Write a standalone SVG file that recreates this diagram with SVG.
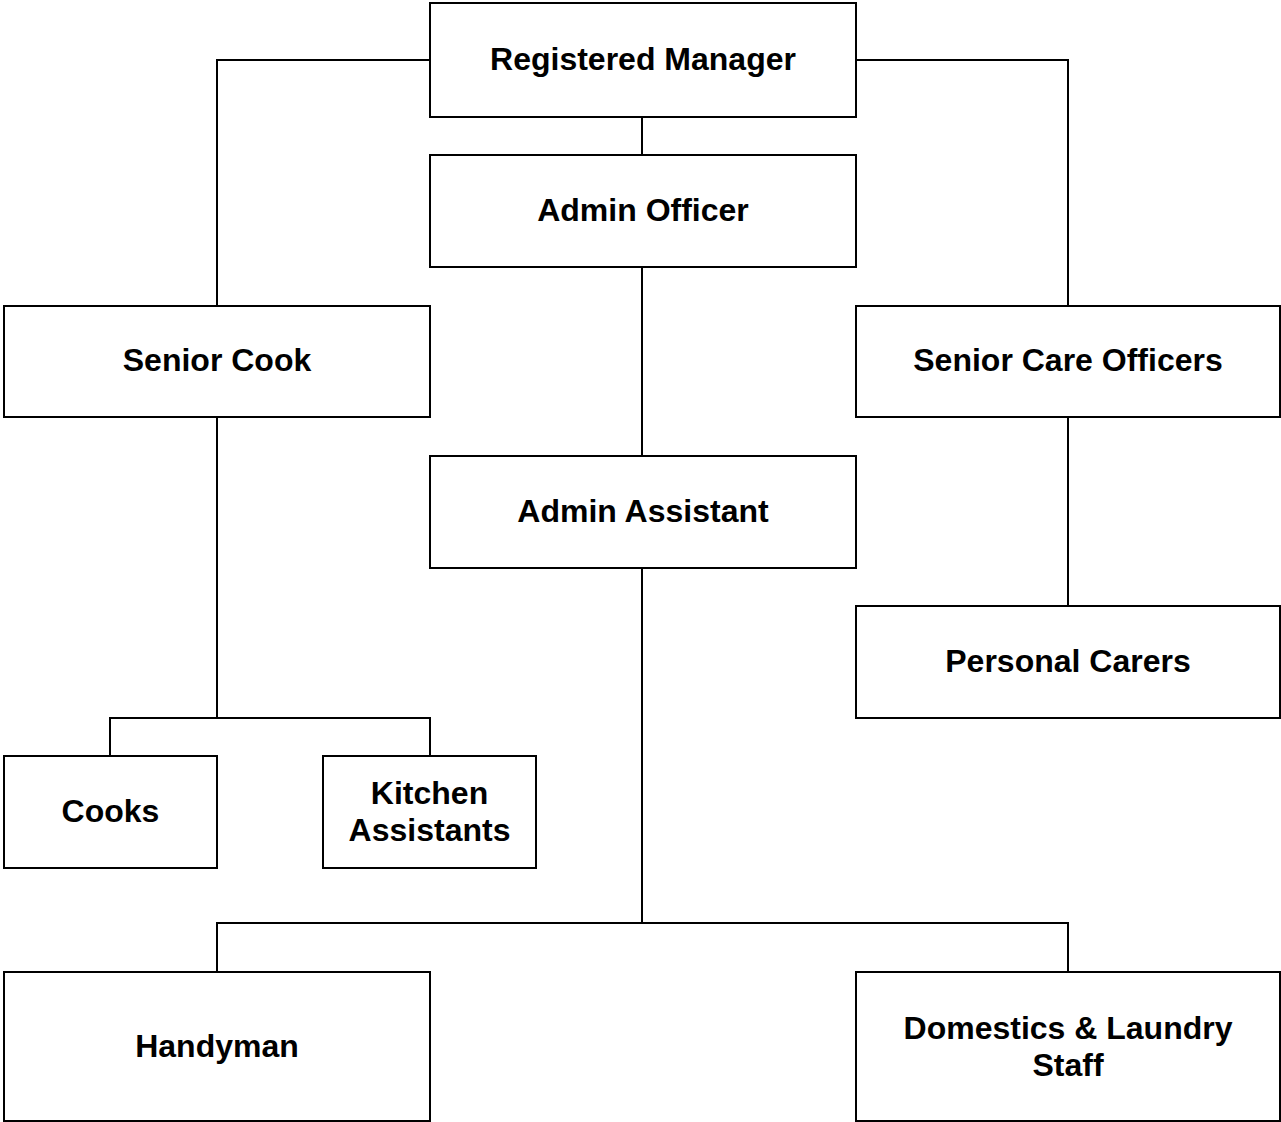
<svg xmlns="http://www.w3.org/2000/svg" width="1281" height="1122" viewBox="0 0 1281 1122">
<style>
.box{fill:#fff;stroke:#000;stroke-width:2}
.lbl{font-family:"Liberation Sans",Arial,sans-serif;font-weight:bold;font-size:32px;fill:#000;text-anchor:middle}
.con{fill:none;stroke:#000;stroke-width:2}
</style>
<rect width="1281" height="1122" fill="#fff"/>
<g id="connectors">
<path class="con" d="M430 60H217V306"/>
<path class="con" d="M856 60H1068V306"/>
<path class="con" d="M642 117V155"/>
<path class="con" d="M642 267V456"/>
<path class="con" d="M217 417V718M110 756V718H430V756"/>
<path class="con" d="M1068 417V606"/>
<path class="con" d="M642 568V923M217 972V923H1068V972"/>
</g>
<g id="registered-manager"><rect class="box" x="430" y="3" width="426" height="114"/><text class="lbl" x="643" y="69.5">Registered Manager</text></g>
<g id="admin-officer"><rect class="box" x="430" y="155" width="426" height="112"/><text class="lbl" x="643" y="220.5">Admin Officer</text></g>
<g id="senior-cook"><rect class="box" x="4" y="306" width="426" height="111"/><text class="lbl" x="217" y="371">Senior Cook</text></g>
<g id="senior-care-officers"><rect class="box" x="856" y="306" width="424" height="111"/><text class="lbl" x="1068" y="371">Senior Care Officers</text></g>
<g id="admin-assistant"><rect class="box" x="430" y="456" width="426" height="112"/><text class="lbl" x="643" y="521.5">Admin Assistant</text></g>
<g id="personal-carers"><rect class="box" x="856" y="606" width="424" height="112"/><text class="lbl" x="1068" y="672">Personal Carers</text></g>
<g id="cooks"><rect class="box" x="4" y="756" width="213" height="112"/><text class="lbl" x="110.5" y="822">Cooks</text></g>
<g id="kitchen-assistants"><rect class="box" x="323" y="756" width="213" height="112"/><text class="lbl" x="429.5" y="803.5">Kitchen</text><text class="lbl" x="429.5" y="840.5">Assistants</text></g>
<g id="handyman"><rect class="box" x="4" y="972" width="426" height="149"/><text class="lbl" x="217" y="1057">Handyman</text></g>
<g id="domestics-laundry"><rect class="box" x="856" y="972" width="424" height="149"/><text class="lbl" x="1068" y="1039">Domestics &amp; Laundry</text><text class="lbl" x="1068" y="1076">Staff</text></g>
</svg>
